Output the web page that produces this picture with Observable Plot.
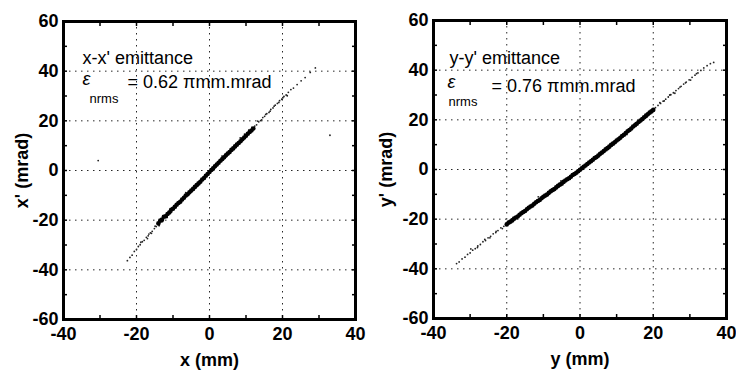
<!DOCTYPE html>
<html><head><meta charset="utf-8">
<script src="https://cdn.jsdelivr.net/npm/d3@7"></script>
<script src="https://cdn.jsdelivr.net/npm/@observablehq/plot@0.6"></script>
<style>
body{margin:0;background:#fff;}
#wrap{display:flex;width:736px;height:374px;overflow:hidden;}
</style></head><body><div id="wrap"></div>
<script>
// axes
const xDomain = [-40, 40];
const yDomain = [-60, 60];
const xTicks = [-40, -20, 0, 20, 40];
const yTicks = [-60, -40, -20, 0, 20, 40, 60];
const gridXs = [-20, 0, 20];
const gridYs = [-40, -20, 0, 20, 40];
const minorX = [-30, -20, -10, 0, 10, 20, 30];
const minorY = [-50, -40, -30, -20, -10, 0, 10, 20, 30, 40, 50];

// left panel: x - x' (dense core)
const xCoreX = [-14,-13.5,-13,-12.5,-12,-11.5,-11,-10.5,-10,-9.5,-9,-8.5,-8,-7.5,-7,-6.5,-6,-5.5,-5,-4.5,-4,-3.5,-3,-2.5,-2,-1.5,-1,-0.5,0,0.5,1,1.5,2,2.5,3,3.5,4,4.5,5,5.5,6,6.5,7,7.5,8,8.5,9,9.5,10,10.5,11,11.5,12];
const xCoreXp = [-21.3,-20.2,-19.8,-18.6,-18.4,-17.5,-16.9,-15.8,-15.4,-14.6,-13.8,-13.1,-12.6,-11.7,-11.0,-10.1,-9.6,-8.8,-8.1,-7.4,-6.6,-5.9,-5.2,-4.5,-3.6,-3.0,-2.1,-1.4,-0.6,0.2,0.9,1.7,2.4,3.1,3.9,4.6,5.3,6.1,6.8,7.4,8.3,8.9,9.7,10.4,11.1,11.8,12.6,13.3,14.0,14.8,15.5,16.1,16.9];
// left panel: sparse points
const xTailX = [-22.5,-21.8,-21.2,-20.6,-20.0,-19.5,-19.0,-18.4,-17.9,-17.3,-16.8,-16.2,-15.7,-15.1,-14.6,-18.8,-17.0,-15.9,-14.9,-16.6,-13.8,-12.9,-11.6,-10.4,-9.2,-13.3,-11.2,-8.7,-6.5,-4.1,-1.8,1.2,3.4,5.9,
  12.4,12.9,13.5,14.0,14.6,15.1,15.7,16.3,16.8,17.4,18.0,18.6,19.2,19.8,20.4,21.0,21.6,22.3,23.0,24.0,25.1,26.2,27.6,29.0,13.2,14.3,15.4,16.6,17.7,19.0,20.1,21.3,11.6,10.8,9.6,8.4,33.0,-30.5];
const xTailXp = [-36.3,-35.0,-34.1,-32.6,-31.8,-30.6,-29.9,-28.7,-28.1,-26.9,-26.3,-25.1,-24.5,-23.4,-22.6,-28.9,-27.4,-25.3,-22.4,-25.6,-22.2,-20.6,-18.9,-16.8,-14.9,-19.6,-16.5,-12.9,-8.9,-7.1,-3.4,1.3,5.8,8.2,
  17.9,18.4,19.6,20.1,21.3,21.8,22.9,23.4,24.6,25.2,26.3,27.0,28.1,28.7,29.8,30.4,31.5,32.6,33.2,34.6,36.1,37.4,39.5,41.3,19.9,20.4,22.6,23.9,25.9,27.4,29.3,30.1,17.4,16.3,14.6,13.1,14.2,4.0];

// right panel: y - y' (dense core)
const yCoreY = [-20,-19.5,-19,-18.5,-18,-17.5,-17,-16.5,-16,-15.5,-15,-14.5,-14,-13.5,-13,-12.5,-12,-11.5,-11,-10.5,-10,-9.5,-9,-8.5,-8,-7.5,-7,-6.5,-6,-5.5,-5,-4.5,-4,-3.5,-3,-2.5,-2,-1.5,-1,-0.5,0,0.5,1,1.5,2,2.5,3,3.5,4,4.5,5,5.5,6,6.5,7,7.5,8,8.5,9,9.5,10,10.5,11,11.5,12,12.5,13,13.5,14,14.5,15,15.5,16,16.5,17,17.5,18,18.5,19,19.5,20];
const yCoreYp = [-22.1,-21.4,-21.0,-20.5,-19.8,-19.3,-18.9,-18.2,-17.6,-17.1,-16.7,-16.0,-15.4,-14.9,-14.5,-13.8,-13.2,-12.7,-12.3,-11.6,-11.0,-10.5,-10.1,-9.4,-8.8,-8.3,-7.9,-7.2,-6.6,-6.1,-5.7,-5.0,-4.4,-3.9,-3.5,-2.9,-2.2,-1.8,-1.3,-0.7,-0.1,0.5,1.1,1.6,2.2,2.8,3.3,3.9,4.6,5.0,5.6,6.3,6.8,7.4,8.1,8.6,9.2,9.9,10.4,11.0,11.7,12.2,12.8,13.5,14.0,14.7,15.4,15.9,16.5,17.3,17.8,18.4,19.1,19.7,20.3,21.0,21.5,22.2,22.9,23.4,24.0];
// right panel: sparse points
const yTailY = [-33.7,-33.0,-32.2,-31.4,-30.7,-30.0,-29.3,-28.6,-27.9,-27.2,-26.5,-25.8,-25.1,-24.4,-23.7,-23.0,-22.4,-21.6,-20.8,-29.8,-28.0,-26.0,-24.6,-22.9,-21.2,-18.6,-16.2,-13.7,-11.4,-8.6,-5.2,-2.7,2.9,6.3,9.5,12.8,
  20.6,21.3,22.0,22.7,23.4,24.1,24.8,25.5,26.2,26.9,27.6,28.3,29.0,29.8,30.6,31.4,32.2,33.0,33.8,34.7,35.6,36.5,21.8,23.0,24.5,25.9,27.3,28.8,30.2,31.8,17.8,19.2,15.0];
const yTailYp = [-37.9,-37.2,-36.0,-35.3,-34.2,-33.6,-32.5,-31.9,-30.8,-30.2,-29.1,-28.6,-27.5,-26.9,-25.9,-25.4,-24.6,-23.5,-22.9,-32.0,-31.4,-28.1,-27.5,-24.9,-23.8,-20.0,-17.9,-14.9,-11.0,-10.1,-4.6,-3.9,3.8,6.9,11.4,14.1,
  24.9,25.8,26.6,27.5,28.3,29.2,30.1,30.9,31.8,32.6,33.5,34.4,35.2,36.1,37.1,38.0,38.9,39.9,40.9,41.8,42.6,43.1,26.9,27.6,30.0,30.7,33.2,34.9,36.0,38.6,22.3,23.3,18.6];

const zipPts = (a, b) => a.map((v, i) => ({u: v, v: b[i]}));

const FONT = "'Liberation Sans', Arial, Helvetica, sans-serif";
const fmt = d => String(d);
const gridStyle = {stroke: "#000", strokeOpacity: 0.85, strokeWidth: 1, strokeDasharray: "1.5,4.5"};
const edge = {stroke: "#000", strokeWidth: 3};

function panel(cfg) {
  const core = zipPts(cfg.coreA, cfg.coreB);
  const tail = zipPts(cfg.tailA, cfg.tailB);
  const t = cfg.text;
  const annot = (txt, dx, dy, size, extra) => Plot.text([txt], Object.assign({frameAnchor: "top-left", textAnchor: "start", lineAnchor: "top", dx, dy, fontSize: size, fontWeight: "normal"}, extra || {}));
  return Plot.plot({
    width: 368, height: 374,
    marginLeft: cfg.ml, marginRight: cfg.mr, marginTop: cfg.mt, marginBottom: cfg.mb,
    x: {domain: xDomain},
    y: {domain: yDomain},
    style: {fontFamily: FONT, fontSize: "18px", fontWeight: "bold", color: "#000", background: "transparent", overflow: "visible"},
    marks: [
      Plot.frame(edge),
      Plot.ruleX(xDomain, edge),
      Plot.ruleY(yDomain, edge),
      Plot.gridX(gridXs, gridStyle),
      Plot.gridY(gridYs, gridStyle),
      Plot.dot(tail, {x: "u", y: "v", r: 0.9, fill: "#222", stroke: "none"}),
      Plot.dot(core, {x: "u", y: "v", r: 2.3, fill: "#000", stroke: "none"}),
      Plot.axisX(minorX, {anchor: "bottom", tickSize: -4, tickFormat: () => "", label: null, strokeWidth: 1.5}),
      Plot.axisX(minorX, {anchor: "top", tickSize: -4, tickFormat: () => "", label: null, strokeWidth: 1.5}),
      Plot.axisY(minorY, {anchor: "left", tickSize: -4, tickFormat: () => "", label: null, strokeWidth: 1.5}),
      Plot.axisY(minorY, {anchor: "right", tickSize: -4, tickFormat: () => "", label: null, strokeWidth: 1.5}),
      Plot.axisX(xTicks, {anchor: "bottom", tickSize: 0, tickPadding: 8, tickFormat: fmt, label: cfg.xLabel, labelAnchor: "center", labelOffset: 46, labelArrow: "none"}),
      Plot.axisY(yTicks, {anchor: "left", tickSize: 0, tickPadding: 5, tickFormat: fmt, label: cfg.yLabel, labelAnchor: "center", labelOffset: cfg.ylo, labelArrow: "none"}),
      annot(t.title, t.tdx, t.tdy, 18),
      annot(t.eps, t.edx, t.edy, 18, {fontStyle: "italic"}),
      annot(t.sub, t.sdx, t.sdy, 13),
      annot(t.value, t.vdx, t.vdy, 18),
      Plot.frame(edge)
    ]
  });
}

const wrap = document.getElementById("wrap");
wrap.append(panel({
  coreA: xCoreX, coreB: xCoreXp, tailA: xTailX, tailB: xTailXp,
  ml: 63, mr: 13, mt: 21, mb: 55, ylo: 48,
  xLabel: "x (mm)", yLabel: "x' (mrad)",
  text: {title: "x-x' emittance", eps: "ε", sub: "nrms", value: "= 0.62 πmm.mrad",
         tdx: 19, tdy: 30, edx: 19, edy: 51, sdx: 26, sdy: 72, vdx: 64, vdy: 54}
}));
wrap.append(panel({
  coreA: yCoreY, coreB: yCoreYp, tailA: yTailY, tailB: yTailYp,
  ml: 65, mr: 10, mt: 20, mb: 56, ylo: 54,
  xLabel: "y (mm)", yLabel: "y' (mrad)",
  text: {title: "y-y' emittance", eps: "ε", sub: "nrms", value: "= 0.76 πmm.mrad",
         tdx: 16, tdy: 31, edx: 14, edy: 55, sdx: 15, sdy: 76, vdx: 58, vdy: 59}
}));
</script></body></html>
